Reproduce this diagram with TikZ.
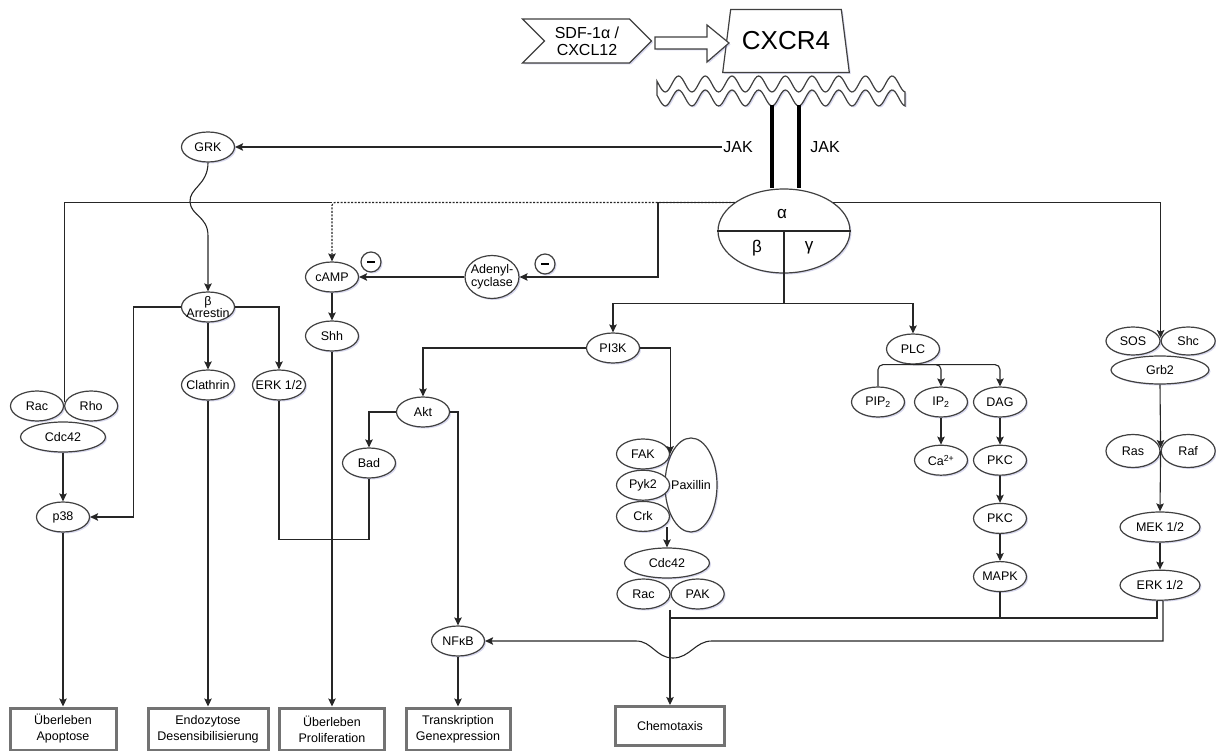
\documentclass[tikz,border=0pt]{standalone}
\usepackage{fontspec}
\setmainfont{Liberation Sans}
\usetikzlibrary{arrows.meta,positioning,calc,shapes.geometric,shapes.symbols,shadows}

\begin{document}
\begin{tikzpicture}[
  x=1pt, y=-1pt,
  node distance=27pt and 0pt,
  softshadow/.style={drop shadow={shadow xshift=1.5pt, shadow yshift=-1.5pt, opacity=0.22, fill=blue!40!gray}},
  mol/.style={ellipse, draw=black!75, line width=1.2pt, fill=white, softshadow, inner xsep=-5pt, inner ysep=-4pt, minimum width=53pt, minimum height=30pt, align=center, font=\fontsize{12.5}{12}\selectfont},
  widemol/.style={mol, minimum width=82pt},
  outcome/.style={rectangle, draw=black!55, line width=3pt, fill=white, softshadow, align=center, minimum height=42pt, font=\fontsize{12.5}{16}\selectfont},
  minuscircle/.style={circle, draw=black!75, line width=1.2pt, fill=white, softshadow, minimum size=20pt, inner sep=0pt},
  jaktext/.style={font=\fontsize{16}{16}\selectfont, inner sep=1pt},
  greek/.style={font=\fontsize{17}{17}\selectfont, inner sep=0pt},
  link/.style={draw=black!85, line width=1.1pt},
  arrow/.style={link, -{Stealth[length=8pt, width=7.5pt, inset=1.5pt]}},
  dotarrow/.style={arrow, dash pattern=on 2pt off 1.5pt},
  jakline/.style={line width=3.5pt, black}
]
\useasboundingbox (0,0) rectangle (1216,751);

% ligand, receptor and membrane
\node[signal, signal from=west, signal to=east, signal pointer angle=90, draw=black!75, line width=1.2pt, fill=white, softshadow, minimum width=129pt, minimum height=44pt, inner sep=0pt, align=center, font=\fontsize{16}{17}\selectfont] (sdf) at (587,41) {SDF-1α /\\CXCL12};
\node[trapezium, trapezium stretches=true, trapezium angle=71, draw=black!75, line width=1.2pt, fill=white, softshadow, minimum width=127pt, minimum height=63pt, inner sep=0pt, font=\fontsize{26}{26}\selectfont] (cxcr) at (786,41) {CXCR4};
\draw[link, draw=black!75, line width=1.2pt, fill=white, softshadow] (655,37) -- (707,37) -- (707,25) -- (729,43) -- (707,62) -- (707,49) -- (655,49) -- cycle;
\draw[link, draw=black!75, line width=1.2pt, fill=white, softshadow] plot[domain=657:905, samples=150, smooth] (\x,{84+8*cos((\x-772)/26.7*360)})
  -- plot[domain=905:657, samples=150, smooth] (\x,{98+8*cos((\x-772)/26.7*360)}) -- cycle;
\coordinate (memL) at (772,105);
\coordinate (memR) at (799,105);

% G protein
\node[ellipse, draw=black!75, line width=1.2pt, fill=white, softshadow, minimum width=132pt, minimum height=84pt, inner sep=0pt] (gprot) at (784,231) {};
\draw[link] (gprot.west) -- (gprot.east);
\draw[link] (gprot.center) -- (gprot.south);
\node[greek] at ($(gprot.center)+(-2,-17)$) {α};
\node[greek] at ($(gprot.center)+(-27,17)$) {β};
\node[greek] at ($(gprot.center)+(25,17)$) {γ};
\draw[jakline] (memL) -- ([xshift=-12pt]gprot.north);
\draw[jakline] (memR) -- ([xshift=15pt]gprot.north);
\node[jaktext] (jakL) at (738,147) {JAK};
\node[jaktext] (jakR) at (825,147) {JAK};

% left branch
\node[mol] (grk) at (208,147) {GRK};
\node[mol] (barr) at (208,307) {β\\Arrestin};
\node[mol] (clath) at (208,385) {Clathrin};
\node[mol] (erkL) at (279,385) {ERK 1/2};
\node[mol] (rac1) at (37,406) {Rac};
\node[mol, right=of rac1] (rho) {Rho};
\node[widemol, minimum width=85pt] (cdc1) at (63,437) {Cdc42};
\node[mol] (p38) at (63,517) {p38};
\node[mol] (camp) at (332,277) {cAMP};
\node[mol] (shh) at (332,336) {Shh};
\node[mol, minimum width=54pt, minimum height=43pt, font=\fontsize{12.5}{13}\selectfont] (adcy) at (492,277) {Adenyl-\\cyclase};
\node[minuscircle] (minusA) at (371,262) {\rule{8pt}{2.8pt}};
\node[minuscircle] (minusB) at (545,264) {\rule{8pt}{2.8pt}};

% PI3K branch
\node[mol] (pi3k) at (613,348) {PI3K};
\node[mol] (akt) at (423,412) {Akt};
\node[mol] (bad) at (369,463) {Bad};
\node[mol] (nfkb) at (458,641) {NFκB};
\node[mol, minimum width=52pt, minimum height=94pt] (pax) at (691,485) {Paxillin};
\node[mol] (fak) at (643,454) {FAK};
\node[mol, below=0pt of fak] (pyk) {Pyk2};
\node[mol, below=0pt of pyk] (crk) {Crk};
\node[widemol, minimum width=85pt] (cdc2) at (667,563) {Cdc42};
\node[mol] (rac2) at (643.5,594) {Rac};
\node[mol, right=of rac2] (pak) {PAK};

% PLC branch
\node[mol] (plc) at (913,349) {PLC};
\node[mol] (pip) at (878,402) {PIP\textsubscript{2}};
\node[mol] (ip) at (941,402) {IP\textsubscript{2}};
\node[mol] (dag) at (1000,402) {DAG};
\node[mol, below=of ip] (ca) {Ca\textsuperscript{2+}};
\node[mol, below=of dag] (pkcA) {PKC};
\node[mol, below=of pkcA] (pkcB) {PKC};
\node[mol, below=of pkcB] (mapk) {MAPK};

% Ras branch
\node[mol, minimum width=54pt, minimum height=28pt] (sos) at (1133,341) {SOS};
\node[mol, minimum width=54pt, minimum height=28pt, right=of sos] (shc) {Shc};
\node[mol, minimum width=98pt, minimum height=28pt] (grb) at (1160,370) {Grb2};
\node[mol, minimum width=54pt, minimum height=33pt] (ras) at (1133,451) {Ras};
\node[mol, minimum width=54pt, minimum height=33pt, right=of ras] (raf) {Raf};
\node[widemol, minimum width=80pt] (mek) at (1160,527) {MEK 1/2};
\node[widemol, minimum width=80pt, below=of mek] (erkR) {ERK 1/2};

% outcomes
\node[outcome, minimum width=106pt] (apop) at (63,729) {Überleben\\Apoptose};
\node[outcome, minimum width=120pt] (endo) at (208,729) {Endozytose\\Desensibilisierung};
\node[outcome, minimum width=105pt] (prolif) at (332,729) {Überleben\\Proliferation};
\node[outcome, minimum width=104pt] (trans) at (458,729) {Transkription\\Genexpression};
\node[outcome, minimum width=109pt, minimum height=39pt] (chemo) at (670,726) {Chemotaxis};

\coordinate (racjoin) at ($(rac1.east)+(0,-4)$);
\coordinate (sosjoin) at ($(sos.east)+(0,-3)$);
\coordinate (rasjoin) at ($(ras.east)+(0,-3)$);
\coordinate (acturn) at (658,277);
\coordinate (chemojoin) at (670,618);
\coordinate (nfjump) at (712,641);

% connectors
\draw[arrow] (jakL.west) -- (grk.east);
\draw[arrow] (grk.south) .. controls (208,185) and (189,188) .. (190,202) .. controls (191,216) and (208,216) .. (208,236) -- (barr.north);
\draw[dotarrow, rounded corners=3pt] (gprot.150) -| (camp.north);
\draw[link] (camp.north |- gprot.150) -| (racjoin);
\draw[arrow] (gprot.150) -| (acturn) -- (adcy.east);
\draw[arrow] (adcy.west) -- (camp.east);
\draw[arrow] (camp) -- (shh);
\draw[arrow] (gprot.30) -| (sosjoin);
\draw[arrow] (barr.west) -- ++(-47,0) |- (p38.east);
\draw[arrow] (barr) -- (clath);
\draw[arrow] (barr.east) -| (erkL.north);
\draw[link] (erkL.south) -- ++(0,139) -| (bad.south);
\draw[arrow] (cdc1) -- (p38);
\draw[arrow] (p38) -- (apop);
\draw[arrow] (clath) -- (endo);
\draw[arrow] (shh) -- (prolif);
\draw[arrow] (gprot.south) -- ++(0,30) -| (pi3k.north);
\draw[arrow] (gprot.south) -- ++(0,30) -| (plc.north);
\draw[arrow] (pi3k.west) -| (akt.north);
\draw[arrow] (pi3k.east) -| (fak.east);
\draw[arrow] (akt.west) -| (bad.north);
\draw[arrow] (akt.east) -| (nfkb.north);
\draw[arrow] (nfkb) -- (trans);
\draw[arrow] (cdc2.north |- crk.south east) -- (cdc2.north);
\draw[arrow] (chemo.north |- rac2.south) -- (chemo.north);
\draw[link, rounded corners=5pt] (pip.north) |- (plc.south);
\draw[arrow, rounded corners=5pt] (plc.south) -| (ip.north);
\draw[arrow, rounded corners=5pt] (plc.south) -| (dag.north);
\draw[arrow] (ip) -- (ca);
\draw[arrow] (dag) -- (pkcA);
\draw[arrow] (pkcA) -- (pkcB);
\draw[arrow] (pkcB) -- (mapk);
\draw[arrow] (grb.south) -- (rasjoin);
\draw[arrow] (ras.east) -- (mek.north);
\draw[arrow] (mek) -- (erkR);
\draw[link] (mapk.south) |- (chemojoin);
\draw[link] ([xshift=-3pt]erkR.south) |- (chemojoin);
\draw[arrow] ([xshift=3pt]erkR.south) |- (nfjump) .. controls (695,641) and (690,658) .. (673,658) .. controls (656,658) and (652,641) .. (636,641) -- (nfkb.east);
\end{tikzpicture}
\end{document}
